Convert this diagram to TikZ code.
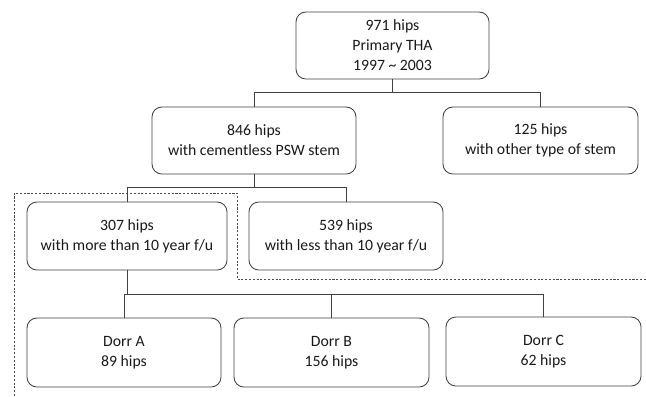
\documentclass[tikz,border=0pt]{standalone}
\usepackage{fontspec}
\setmainfont{Carlito}
\usepackage{tikz}

\begin{document}
\begin{tikzpicture}[x=0.025cm,y=-0.025cm,
    box/.style={draw=black!75,line width=0.6pt,rounded corners=7pt,
      align=center,inner sep=0pt,font=\fontsize{11.2}{14.2}\selectfont,
      text=black!90},
    link/.style={draw=black!75,line width=0.6pt}]

  \useasboundingbox (0,0) rectangle (646,396);

  \node[box,minimum width=193*0.025cm,minimum height=67*0.025cm] (top) at (392.5,45.5)
    {971 hips\\Primary THA\\1997 \textasciitilde{} 2003};
  \node[box,minimum width=204*0.025cm,minimum height=67*0.025cm] (psw) at (254,140.5)
    {846 hips\\with cementless PSW stem};
  \node[box,minimum width=195*0.025cm,minimum height=67*0.025cm] (other) at (540.5,140.5)
    {125 hips\\with other type of stem};
  \node[box,minimum width=200*0.025cm,minimum height=68*0.025cm] (long) at (127,236)
    {307 hips\\with more than 10 year f/u};
  \node[box,minimum width=194*0.025cm,minimum height=68*0.025cm] (short) at (346,236)
    {539 hips\\with less than 10 year f/u};
  \node[box,minimum width=194*0.025cm,minimum height=69*0.025cm] (dorra) at (124,352.5)
    {Dorr A\\89 hips};
  \node[box,minimum width=195*0.025cm,minimum height=69*0.025cm] (dorrb) at (331.5,352.5)
    {Dorr B\\156 hips};
  \node[box,minimum width=195*0.025cm,minimum height=69*0.025cm] (dorrc) at (543.5,351.5)
    {Dorr C\\62 hips};

  \draw[link] (top.south) -- ++(0,13) -| (psw.north);
  \draw[link] (top.south) -- ++(0,13) -| (other.north);
  \draw[link] (psw.south) -- ++(0,13) -| (long.north);
  \draw[link] (psw.south) -- ++(0,13) -| (short.north);
  \draw[link] (long.south) -- ++(0,24) -| (dorra.north);
  \draw[link] (long.south) -- ++(0,24) -| (dorrb.north);
  \draw[link] (long.south) -- ++(0,24) -| (dorrc.north);

  \draw[black!70,line width=0.6pt,dash pattern=on 1.5pt off 1.2pt]
    (14,396) -- (14,193) -- (237,193) -- (237,279) -- (646,279);

\end{tikzpicture}
\end{document}
